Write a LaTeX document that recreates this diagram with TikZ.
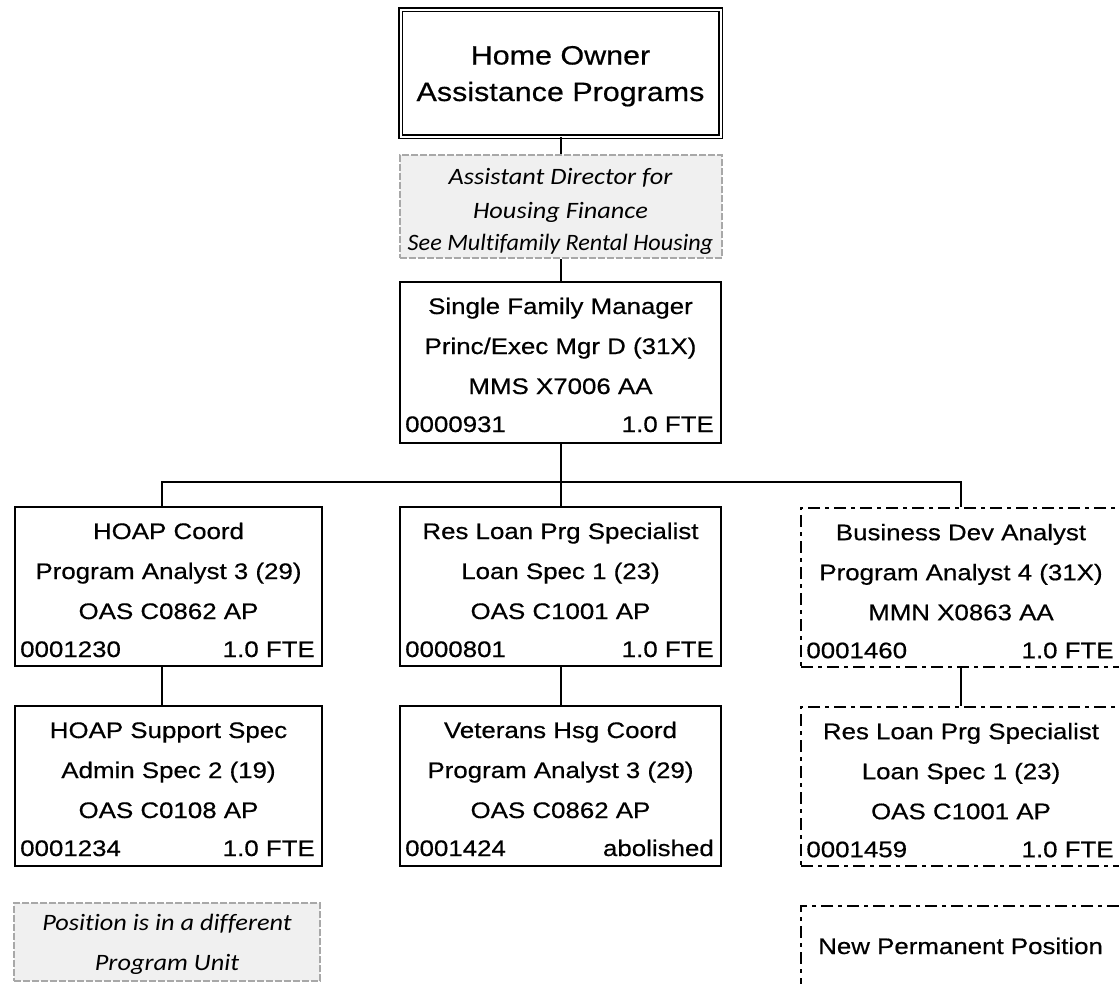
\documentclass[tikz,border=0pt]{standalone}
\usepackage{fontspec}
\setmainfont{Liberation Sans}[FakeStretch=1.15,FakeBold=0.5]
\newfontfamily\notefont{Carlito}[FakeStretch=1.12,Ligatures=NoCommon]
\newfontfamily\notefontnarrow{Carlito}[FakeStretch=1.03,Ligatures=NoCommon]
\definecolor{notefill}{HTML}{F0F0F0}
\definecolor{noteline}{HTML}{A8A8A8}

% four-line position card: name, title, class line, then id (left) and FTE (right)
\newcommand\poscard[6]{%
  \node[txt] (#1-a) at ([yshift=-33pt]#1.north) {#2};
  \node[txt] (#1-b) at ([yshift=-73pt]#1.north) {#3};
  \node[txt] (#1-c) at ([yshift=-113pt]#1.north) {#4};
  \node[txt,anchor=base west] (#1-d) at ([xshift=6pt,yshift=-151pt]#1.north west) {#5};
  \node[txt,anchor=base east] (#1-e) at ([xshift=-8pt,yshift=-151pt]#1.north east) {#6};
}

\begin{document}
\begin{tikzpicture}[x=1pt,y=-1pt,
  box/.style={draw=black, line width=2pt, inner sep=0pt, minimum width=#1},
  box/.default=307pt,
  newbox/.style={draw=black, line width=1.6pt, inner sep=0pt, minimum width=320pt,
    dash pattern=on 12pt off 5pt on 4pt off 5pt},
  note/.style={draw=noteline, fill=notefill, line width=2pt, inner sep=0pt,
    dash pattern=on 7pt off 2pt},
  headbox/.style={draw=black, double, double distance=2pt, line width=1.7pt, inner sep=0pt},
  conn/.style={draw=black, line width=2pt},
  txt/.style={anchor=base, inner sep=0pt, font=\fontsize{22.5}{27}\selectfont},
  notetxt/.style={anchor=base, inner sep=0pt, font=\notefont\itshape\fontsize{23.5}{28}\selectfont},
]
\useasboundingbox (0,0) rectangle (1119,983);
\clip (0,0) rectangle (1119,983);

% unit heading
\node[headbox, minimum width=320pt, minimum height=127pt] (top) at (560.5,73) {};
\node[anchor=base, inner sep=0pt, font=\fontsize{26.5}{31}\selectfont] (top-a) at (560.5,64.5) {Home Owner};
\node[anchor=base, inner sep=0pt, font=\fontsize{26.5}{31}\selectfont] (top-b) at (560.5,101) {Assistance Programs};

% position held in another program unit
\node[note, minimum width=322pt, minimum height=103pt] (asst) at (560.5,206.5) {};
\node[notetxt] (asst-a) at (560.5,184) {Assistant Director for};
\node[notetxt] (asst-b) at (560.5,218) {Housing Finance};
\node[notetxt, font=\notefontnarrow\itshape\fontsize{23.5}{28}\selectfont] (asst-c) at (560.5,250.5) {See Multifamily Rental Housing};

% manager
\node[box=321pt, minimum height=161pt] (sfm) at (560.5,362.5) {};
\poscard{sfm}{Single Family Manager}{Princ/Exec Mgr D (31X)}{MMS X7006 AA}{0000931}{1.0 FTE}

% first level
\node[box=307pt, minimum height=159pt] (hoap) at (168.5,586.5) {};
\poscard{hoap}{HOAP Coord}{Program Analyst 3 (29)}{OAS C0862 AP}{0001230}{1.0 FTE}

\node[box=321pt, minimum height=159pt] (resloan) at (560.5,586.5) {};
\poscard{resloan}{Res Loan Prg Specialist}{Loan Spec 1 (23)}{OAS C1001 AP}{0000801}{1.0 FTE}

\node[newbox, minimum height=159pt] (busdev) at (961,587.5) {};
\poscard{busdev}{Business Dev Analyst}{Program Analyst 4 (31X)}{MMN X0863 AA}{0001460}{1.0 FTE}

% second level
\node[box=307pt, minimum height=160pt] (hoapss) at (168.5,786) {};
\poscard{hoapss}{HOAP Support Spec}{Admin Spec 2 (19)}{OAS C0108 AP}{0001234}{1.0 FTE}

\node[box=321pt, minimum height=160pt] (vets) at (560.5,786) {};
\poscard{vets}{Veterans Hsg Coord}{Program Analyst 3 (29)}{OAS C0862 AP}{0001424}{abolished}

\node[newbox, minimum height=159pt] (resloan2) at (961,786.5) {};
\poscard{resloan2}{Res Loan Prg Specialist}{Loan Spec 1 (23)}{OAS C1001 AP}{0001459}{1.0 FTE}

% connectors
\coordinate (bus) at (560.5,482);
\coordinate (busL) at (162,482);
\coordinate (busR) at (961,482);
\draw[conn] (top.south) -- (asst.north);
\draw[conn] (asst.south) -- (sfm.north);
\draw[conn] (sfm.south) -- (bus);
\draw[conn] (hoap.north -| busL) -- (busL) -- (busR) -- (busdev.north);
\draw[conn] (bus) -- (resloan.north);
\draw[conn] (hoap.south -| busL) -- (hoapss.north -| busL);
\draw[conn] (resloan.south) -- (vets.north);
\draw[conn] (busdev.south) -- (resloan2.north);

% legend
\node[note, minimum width=306pt, minimum height=78pt] (key1) at (167,942) {};
\node[notetxt] (key1-a) at (167,930) {Position is in a different};
\node[notetxt] (key1-b) at (167,970) {Program Unit};

\node[newbox, minimum height=94pt] (key2) at (961,953) {};
\node[txt, anchor=base west] (key2-a) at (818,954) {New Permanent Position};
\end{tikzpicture}
\end{document}
